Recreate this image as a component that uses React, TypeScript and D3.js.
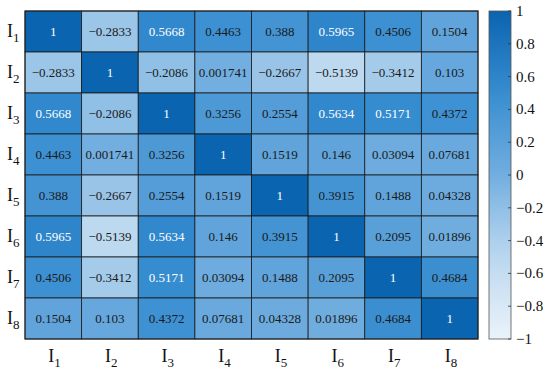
import React from "react";
import * as d3 from "d3";

const labels = ["1", "2", "3", "4", "5", "6", "7", "8"];

const matrix: number[][] = [
  [1, -0.2833, 0.5668, 0.4463, 0.388, 0.5965, 0.4506, 0.1504],
  [-0.2833, 1, -0.2086, 0.001741, -0.2667, -0.5139, -0.3412, 0.103],
  [0.5668, -0.2086, 1, 0.3256, 0.2554, 0.5634, 0.5171, 0.4372],
  [0.4463, 0.001741, 0.3256, 1, 0.1519, 0.146, 0.03094, 0.07681],
  [0.388, -0.2667, 0.2554, 0.1519, 1, 0.3915, 0.1488, 0.04328],
  [0.5965, -0.5139, 0.5634, 0.146, 0.3915, 1, 0.2095, 0.01896],
  [0.4506, -0.3412, 0.5171, 0.03094, 0.1488, 0.2095, 1, 0.4684],
  [0.1504, 0.103, 0.4372, 0.07681, 0.04328, 0.01896, 0.4684, 1],
];

const cbTicks = [1, 0.8, 0.6, 0.4, 0.2, 0, -0.2, -0.4, -0.6, -0.8, -1];

const W = 550;
const H = 375;
const left = 25;
const top = 11;
const right = 478;
const bottom = 339;
const cbX = 489;
const cbW = 22;

const color = d3
  .scaleLinear<string>()
  .domain([-1, -0.5, 0, 0.5, 1])
  .range(["#eaf3fb", "#bcd8ef", "#72aee0", "#378dd0", "#0b64b0"])
  .interpolate(d3.interpolateRgb);

const fmt = (v: number) => {
  const s = String(v);
  return s.startsWith("-") ? "\u2212" + s.slice(1) : s;
};

const font = "'Liberation Serif', 'Times New Roman', serif";

export default function App() {
  const x = d3.scaleBand<number>().domain(d3.range(8)).range([left, right]);
  const y = d3.scaleBand<number>().domain(d3.range(8)).range([top, bottom]);
  const cy = d3.scaleLinear().domain([-1, 1]).range([bottom, top]);
  const stops = d3.range(0, 1.0001, 0.1);

  return (
    <svg
      width={W}
      height={H}
      style={{ position: "absolute", left: 0, top: 0, fontFamily: font }}
    >
      <defs>
        <linearGradient id="cb" x1="0" y1="1" x2="0" y2="0">
          {stops.map((t) => (
            <stop key={t} offset={t} stopColor={color(-1 + 2 * t)} />
          ))}
        </linearGradient>
      </defs>
      <rect width={W} height={H} fill="#fff" />
      {matrix.map((row, i) =>
        row.map((v, j) => (
          <g key={`${i}-${j}`}>
            <rect
              x={x(j)}
              y={y(i)}
              width={x.bandwidth()}
              height={y.bandwidth()}
              fill={color(v)}
              stroke="#1a1a1a"
              strokeWidth={0.8}
            />
            <text
              x={(x(j) ?? 0) + x.bandwidth() / 2}
              y={(y(i) ?? 0) + y.bandwidth() / 2}
              textAnchor="middle"
              dominantBaseline="central"
              fontSize={13}
              fill={v >= 0.5 ? "#ffffff" : "#1a1a1a"}
            >
              {fmt(v)}
            </text>
          </g>
        ))
      )}
      <rect
        x={left}
        y={top}
        width={right - left}
        height={bottom - top}
        fill="none"
        stroke="#222"
        strokeWidth={1}
      />
      {labels.map((l, i) => (
        <text
          key={`y${i}`}
          x={7}
          y={(y(i) ?? 0) + y.bandwidth() / 2 + 5}
          fontSize={18}
          fill="#111"
        >
          I
          <tspan fontSize={13} dy={5}>
            {l}
          </tspan>
        </text>
      ))}
      {labels.map((l, i) => (
        <text
          key={`x${i}`}
          x={(x(i) ?? 0) + x.bandwidth() / 2 - 5}
          y={362}
          fontSize={18}
          fill="#111"
        >
          I
          <tspan fontSize={13} dy={5}>
            {l}
          </tspan>
        </text>
      ))}
      <rect
        x={cbX}
        y={top}
        width={cbW}
        height={bottom - top}
        fill="url(#cb)"
        stroke="#555"
        strokeWidth={0.8}
      />
      {cbTicks.map((t) => (
        <g key={t}>
          <line
            x1={cbX + cbW - 3}
            x2={cbX + cbW}
            y1={cy(t)}
            y2={cy(t)}
            stroke="#333"
            strokeWidth={0.8}
          />
          <text
            x={cbX + cbW + 5}
            y={cy(t)}
            dominantBaseline="central"
            fontSize={15}
            fill="#111"
          >
            {fmt(t)}
          </text>
        </g>
      ))}
    </svg>
  );
}
